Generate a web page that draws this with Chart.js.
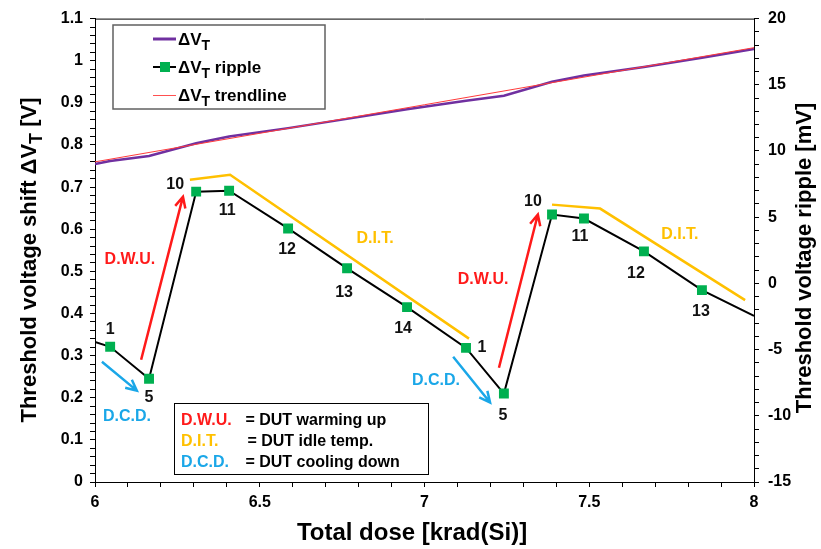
<!DOCTYPE html>
<html>
<head>
<meta charset="utf-8">
<script src="https://cdn.jsdelivr.net/npm/chart.js@4.4.1/dist/chart.umd.min.js"></script>
<style>
  html, body { margin: 0; padding: 0; background: #fff; }
  canvas { display: block; }
</style>
</head>
<body>
<canvas id="myChart" width="821" height="549"></canvas>
<script>
// dose of each reading; first and last are where the curves meet the frame
const doseX = [6.0, 6.046, 6.164, 6.307, 6.407, 6.586, 6.765, 6.947, 7.126, 7.241, 7.387, 7.484, 7.666, 7.842, 8.0];
const shiftV = [0.755, 0.762, 0.774, 0.804, 0.820, 0.840, 0.862, 0.885, 0.905, 0.917, 0.950, 0.965, 0.985, 1.007, 1.028];
const rippleMv = [-4.42, -4.79, -7.20, 6.93, 7.0, 4.15, 1.14, -1.79, -4.87, -8.32, 5.2, 4.9, 2.42, -0.51, -2.46];
const pointNames = ['', '1', '5', '10', '11', '12', '13', '14', '1', '5', '10', '11', '12', '13', ''];

const trendX = [6, 8];
const trendV = [0.760, 1.031];

// yellow D.I.T. guide lines (ripple axis)
const ditX1 = [6.288, 6.410, 7.135];
const ditMv1 = [7.83, 8.20, -4.17];
const ditX2 = [7.387, 7.533, 7.973];
const ditMv2 = [5.95, 5.65, -1.26];

// arrows: [x from, mV from, x to, mV to]
const dwuArrows = [[6.140, -5.77, 6.267, 6.55], [7.226, -6.37, 7.344, 5.20]];
const dcdArrows = [[6.021, -5.92, 6.127, -8.10], [7.087, -5.54, 7.199, -9.0]];

// phase labels in data units
const phaseText = ['D.W.U.', 'D.W.U.', 'D.I.T.', 'D.I.T.', 'D.C.D.', 'D.C.D.'];
const phaseX = [6.106, 7.178, 6.850, 7.775, 6.097, 7.035];
const phaseMv = [1.82, 0.32, 3.40, 3.70, -10.05, -7.35];

const xTicks = [6, 6.5, 7, 7.5, 8];
const yTicks = [0, 0.1, 0.2, 0.3, 0.4, 0.5, 0.6, 0.7, 0.8, 0.9, 1, 1.1];
const y2Ticks = [-15, -10, -5, 0, 5, 10, 15, 20];

const RED = '#FF1A1A';
const YELLOW = '#FFC000';
const BLUE = '#1AA7E8';
const GREEN = '#00B050';
const PURPLE = '#7030A0';
const FONT = "'Liberation Sans', Arial, sans-serif";
const phaseColor = [RED, RED, YELLOW, YELLOW, BLUE, BLUE];
const numOffsets = [[0, 0], [0, -17], [0, 19], [-21, -7], [-2, 20], [-1, 21], [-3, 24], [-4, 21],
  [16, 0], [-1, 22], [-19, -13], [-4, 18], [-8, 22], [-1, 21], [0, 0]];

function pts(xs, ys) {
  return xs.map((x, i) => ({ x: x, y: ys[i] }));
}

function onTick(list) {
  return function (value) {
    const hit = list.find((t) => Math.abs(t - value) < 1e-6);
    return hit === undefined ? '' : String(hit);
  };
}

function arrow(ctx, x1, y1, x2, y2, color) {
  const a = Math.atan2(y2 - y1, x2 - x1);
  const h = 12;
  ctx.strokeStyle = color;
  ctx.lineWidth = 2.5;
  ctx.beginPath();
  ctx.moveTo(x1, y1);
  ctx.lineTo(x2, y2);
  ctx.moveTo(x2 - h * Math.cos(a - 0.45), y2 - h * Math.sin(a - 0.45));
  ctx.lineTo(x2, y2);
  ctx.lineTo(x2 - h * Math.cos(a + 0.45), y2 - h * Math.sin(a + 0.45));
  ctx.stroke();
}

// text with a lowered "T" subscript; parts = [[text, size, dy]]
function richWidth(ctx, parts) {
  let w = 0;
  parts.forEach((p) => {
    ctx.font = 'bold ' + p[1] + 'px ' + FONT;
    w += ctx.measureText(p[0]).width;
  });
  return w;
}
function drawRich(ctx, parts, x, y) {
  ctx.textAlign = 'left';
  ctx.textBaseline = 'alphabetic';
  parts.forEach((p) => {
    ctx.font = 'bold ' + p[1] + 'px ' + FONT;
    ctx.fillText(p[0], x, y + p[2]);
    x += ctx.measureText(p[0]).width;
  });
}

const extras = {
  id: 'extras',
  afterDraw(chart) {
    const ctx = chart.ctx;
    const a = chart.chartArea;
    const sx = chart.scales.x;
    const sy2 = chart.scales.y2;
    ctx.save();

    // frame top
    ctx.strokeStyle = '#000';
    ctx.lineWidth = 1;
    ctx.beginPath();
    ctx.moveTo(a.left, a.top + 0.5);
    ctx.lineTo(a.right, a.top + 0.5);
    ctx.stroke();

    // arrows
    dwuArrows.forEach((r) => arrow(ctx, sx.getPixelForValue(r[0]), sy2.getPixelForValue(r[1]),
      sx.getPixelForValue(r[2]), sy2.getPixelForValue(r[3]), RED));
    dcdArrows.forEach((r) => arrow(ctx, sx.getPixelForValue(r[0]), sy2.getPixelForValue(r[1]),
      sx.getPixelForValue(r[2]), sy2.getPixelForValue(r[3]), BLUE));

    // point numbers
    ctx.fillStyle = '#111';
    ctx.font = 'bold 16px ' + FONT;
    ctx.textAlign = 'center';
    ctx.textBaseline = 'middle';
    pointNames.forEach((n, i) => {
      if (!n) return;
      ctx.fillText(n, sx.getPixelForValue(doseX[i]) + numOffsets[i][0],
        sy2.getPixelForValue(rippleMv[i]) + numOffsets[i][1]);
    });

    // phase labels
    phaseText.forEach((t, i) => {
      ctx.fillStyle = phaseColor[i];
      ctx.fillText(t, sx.getPixelForValue(phaseX[i]), sy2.getPixelForValue(phaseMv[i]));
    });

    // series legend
    ctx.fillStyle = '#fff';
    ctx.fillRect(113, 25, 212, 84);
    ctx.strokeStyle = '#606060';
    ctx.lineWidth = 1.5;
    ctx.strokeRect(113, 25, 212, 84);
    ctx.lineWidth = 3;
    ctx.strokeStyle = PURPLE;
    ctx.beginPath(); ctx.moveTo(153, 39); ctx.lineTo(176, 39); ctx.stroke();
    ctx.lineWidth = 2;
    ctx.strokeStyle = '#000';
    ctx.beginPath(); ctx.moveTo(153, 67); ctx.lineTo(176, 67); ctx.stroke();
    ctx.fillStyle = GREEN;
    ctx.fillRect(160, 62, 10, 10);
    ctx.lineWidth = 1;
    ctx.strokeStyle = '#FF5050';
    ctx.beginPath(); ctx.moveTo(153, 95.5); ctx.lineTo(176, 95.5); ctx.stroke();
    ctx.fillStyle = '#000';
    drawRich(ctx, [['ΔV', 17, 0], ['T', 14, 5]], 178, 45);
    drawRich(ctx, [['ΔV', 17, 0], ['T', 14, 5], [' ripple', 17, 0]], 178, 73);
    drawRich(ctx, [['ΔV', 17, 0], ['T', 14, 5], [' trendline', 17, 0]], 178, 101);

    // phase legend
    ctx.fillStyle = '#fff';
    ctx.fillRect(174, 403, 254, 71);
    ctx.strokeStyle = '#000';
    ctx.lineWidth = 1;
    ctx.strokeRect(174.5, 403.5, 254, 71);
    ctx.font = 'bold 16px ' + FONT;
    ctx.textAlign = 'left';
    ctx.textBaseline = 'alphabetic';
    const rows = [['D.W.U.', ' = DUT warming up', RED, 241], ['D.I.T.', ' = DUT idle temp.', YELLOW, 243],
      ['D.C.D.', ' = DUT cooling down', BLUE, 241]];
    rows.forEach((r, i) => {
      const y = 425 + i * 21;
      ctx.fillStyle = r[2];
      ctx.fillText(r[0], 181, y);
      ctx.fillStyle = '#000';
      ctx.fillText(r[1], r[3], y);
    });

    // axis titles
    ctx.fillStyle = '#000';
    const left = [['Threshold voltage shift ΔV', 22, 0], ['T', 18, 6], [' [V]', 22, 0]];
    ctx.save();
    ctx.translate(36, 260);
    ctx.rotate(-Math.PI / 2);
    drawRich(ctx, left, -richWidth(ctx, left) / 2, 0);
    ctx.restore();

    const right = [['Threshold voltage ripple [mV]', 22, 0]];
    ctx.save();
    ctx.translate(811, 258);
    ctx.rotate(-Math.PI / 2);
    drawRich(ctx, right, -richWidth(ctx, right) / 2, 0);
    ctx.restore();

    const bottom = [['Total dose [krad(Si)]', 24, 0]];
    drawRich(ctx, bottom, 412 - richWidth(ctx, bottom) / 2, 540);

    ctx.restore();
  }
};

const tickFont = { family: FONT, size: 16, weight: 'bold' };

function axisGrid() {
  return { drawOnChartArea: false, tickLength: 5, tickColor: '#000', tickWidth: 1 };
}

new Chart(document.getElementById('myChart'), {
  type: 'line',
  data: {
    datasets: [
      {
        label: 'ΔVT trendline',
        data: pts(trendX, trendV),
        yAxisID: 'y',
        borderColor: '#FF3B3B',
        borderWidth: 1,
        pointRadius: 0,
        order: 1,
      },
      {
        label: 'ΔVT',
        data: pts(doseX, shiftV),
        yAxisID: 'y',
        borderColor: PURPLE,
        borderWidth: 2.5,
        pointRadius: 0,
        order: 2,
      },
      {
        label: 'D.I.T.',
        data: pts(ditX1, ditMv1),
        yAxisID: 'y2',
        borderColor: YELLOW,
        borderWidth: 2.5,
        pointRadius: 0,
        order: 3,
      },
      {
        label: 'D.I.T. 2',
        data: pts(ditX2, ditMv2),
        yAxisID: 'y2',
        borderColor: YELLOW,
        borderWidth: 2.5,
        pointRadius: 0,
        order: 3,
      },
      {
        label: 'ΔVT ripple',
        data: pts(doseX, rippleMv),
        yAxisID: 'y2',
        borderColor: '#000',
        borderWidth: 2,
        pointStyle: 'rect',
        pointRadius: doseX.map((x, i) => (pointNames[i] ? 7 : 0)),
        pointBackgroundColor: GREEN,
        pointBorderColor: GREEN,
        pointBorderWidth: 0,
        order: 0,
      },
    ],
  },
  options: {
    responsive: false,
    animation: false,
    layout: { padding: { top: 16, left: 0, right: 0, bottom: 0 } },
    plugins: { legend: { display: false }, tooltip: { enabled: false } },
    elements: { line: { tension: 0 } },
    scales: {
      x: {
        type: 'linear',
        min: 6,
        max: 8,
        afterFit: (s) => { s.height = 67; },
        ticks: { stepSize: 0.1, autoSkip: false, maxRotation: 0, padding: 6, color: '#000', font: tickFont, callback: onTick(xTicks) },
        grid: axisGrid(),
        border: { color: '#000', width: 1 },
      },
      y: {
        position: 'left',
        min: 0,
        max: 1.1,
        afterFit: (s) => { s.width = 95; },
        ticks: { stepSize: 0.02, autoSkip: false, padding: 7, color: '#000', font: tickFont, callback: onTick(yTicks) },
        grid: axisGrid(),
        border: { color: '#000', width: 1 },
      },
      y2: {
        position: 'right',
        min: -15,
        max: 20,
        afterFit: (s) => { s.width = 67; },
        ticks: { stepSize: 1, autoSkip: false, padding: 9, color: '#000', font: tickFont, callback: onTick(y2Ticks) },
        grid: axisGrid(),
        border: { color: '#000', width: 1 },
      },
    },
  },
  plugins: [extras],
});
</script>
</body>
</html>
